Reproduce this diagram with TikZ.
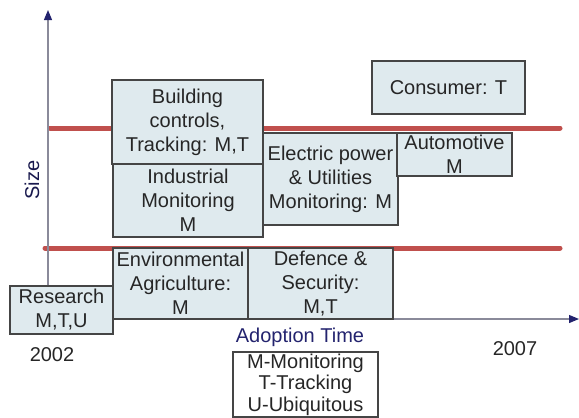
\documentclass[tikz,border=0pt]{standalone}
\usepackage{fontspec}
\setmainfont{Liberation Sans}
\usepackage{tikz}
\usetikzlibrary{arrows.meta}
\definecolor{boxfill}{HTML}{DFEAEE}
\definecolor{boxline}{HTML}{454545}
\definecolor{sizered}{HTML}{C0504D}
\definecolor{axisgray}{HTML}{8A8A9A}
\definecolor{navy}{HTML}{23236E}

\begin{document}
\begin{tikzpicture}[x=1pt, y=-1pt, font=\fontsize{20}{24}\selectfont, text=black!85,
    box/.style = {draw=boxline, line width=1.2pt, fill=boxfill, align=center, inner sep=0pt},
    redline/.style = {sizered, line width=5pt, line cap=round},
    axis/.style = {axisgray, line width=1.2pt, -{Triangle[length=10pt, width=8pt, color=navy]}}]

    \useasboundingbox (0,0) rectangle (579,418);

    \coordinate (ytop) at (48,10);
    \coordinate (xend) at (579,319);
    \coordinate (hiL) at (50,128);
    \coordinate (hiR) at (560,128);
    \coordinate (loL) at (45,248);
    \coordinate (loR) at (560,248);

    \draw[redline] (hiL) -- (hiR);
    \draw[redline] (loL) -- (loR);

    \node[box, minimum width=103pt, minimum height=48pt] (research) at (61.5,310) {Research\\M,T,U};

    \draw[axis] (research.north -| ytop) -- (ytop);
    \draw[axis] (research.east |- xend) -- (xend);

    \node[box, minimum width=151pt, minimum height=84pt] (building) at (187.5,122) {Building\\controls,\\Tracking: M,T};
    \node[box, minimum width=150pt, minimum height=73pt] (industrial) at (188,200.5) {Industrial\\Monitoring\\M};
    \node[box, minimum width=135pt, minimum height=92pt] (electric) at (330.5,179) {Electric power\\\& Utilities\\Monitoring: M};
    \node[box, minimum width=115pt, minimum height=43pt] (automotive) at (454.5,154.5) {Automotive\\M};
    \node[box, minimum width=153pt, minimum height=53pt] (consumer) at (448.5,87.5) {Consumer: T};
    \node[box, minimum width=135pt, minimum height=71pt] (environ) at (180.5,283.5) {Environmental\\Agriculture:\\M};
    \node[box, minimum width=145pt, minimum height=71pt] (defence) at (320.5,283.5) {Defence \&\\Security:\\M,T};

    \node[rotate=90, text=navy!70!black] (size) at (32,180) {Size};
    \node[text=navy] (adoption) at (300,337) {Adoption Time};
    \node (y2002) at (52,355) {2002};
    \node (y2007) at (515,349) {2007};

    \node[draw=boxline, line width=1.2pt, fill=white, align=center, inner sep=0pt,
        minimum width=145pt, minimum height=65pt, font=\fontsize{20}{21.5}\selectfont] (legend) at (305.5,384.5)
        {M-Monitoring\\T-Tracking\\U-Ubiquitous};

\end{tikzpicture}
\end{document}
